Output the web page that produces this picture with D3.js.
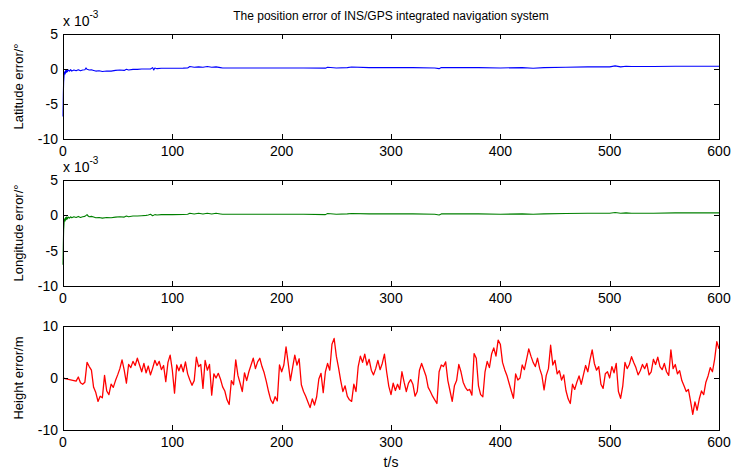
<!DOCTYPE html>
<html>
<head>
<meta charset="utf-8">
<script src="https://cdn.jsdelivr.net/npm/d3@7"></script>
<style>
  body { margin: 0; background: #fff; }
  text { font-family: "Liberation Sans", Arial, sans-serif; fill: #000; }
</style>
</head>
<body>
<div id="chart-area"></div>
<script>
// data

const xTicks = [0, 100, 200, 300, 400, 500, 600];
const degTicks = [5, 0, -5, -10];
const heightTicks = [10, 0, -10];

// latitude error, x 1e-3 deg
const latTime = [0, 0.3, 0.6, 1, 1.5, 2, 2.5, 3, 3.5, 4, 5, 6, 7, 8, 10, 12, 14, 16, 18, 20,
  21, 22, 24, 26, 28, 30, 33, 36, 40, 44, 48, 52, 56, 58, 60, 64, 68, 72, 76, 80,
  82, 83, 84, 86, 90, 100, 110, 114, 116, 120, 124, 128, 132, 136, 140, 144, 146, 150, 160, 180,
  200, 220, 240, 242, 250, 260, 264, 280, 300, 320, 340, 344, 346, 360, 380, 400, 420, 430, 440, 460,
  480, 500, 505, 510, 515, 520, 540, 560, 580, 600];
const latValue = [-6.8, -3.5, -1.8, -0.9, -0.4, -0.7, -0.2, -0.5, -0.1, -0.4, -0.15, -0.3, -0.1, -0.3, -0.15, -0.25, -0.1, -0.25, -0.15, -0.1,
  0.15, -0.05, -0.15, -0.1, -0.2, -0.3, -0.25, -0.35, -0.28, -0.3, -0.2, -0.15, -0.2, -0.05, -0.15, -0.05, -0.05, 0.0, 0.0, 0.0,
  0.2, -0.15, 0.15, 0.05, 0.1, 0.1, 0.12, 0.15, 0.35, 0.25, 0.3, 0.25, 0.35, 0.25, 0.3, 0.2, 0.15, 0.15, 0.15, 0.15,
  0.15, 0.15, 0.12, 0.25, 0.15, 0.2, 0.28, 0.2, 0.2, 0.2, 0.15, 0.05, 0.2, 0.2, 0.2, 0.15, 0.2, 0.1, 0.2, 0.25,
  0.3, 0.3, 0.45, 0.3, 0.4, 0.35, 0.35, 0.4, 0.4, 0.4];

// longitude error, x 1e-3 deg
const lonTime = [0, 0.3, 0.6, 1, 1.5, 2, 2.5, 3, 3.5, 4, 5, 6, 7, 8, 10, 12, 14, 16, 18, 20,
  22, 23, 24, 26, 28, 30, 33, 36, 40, 44, 48, 52, 56, 58, 60, 64, 68, 72, 76, 78,
  80, 82, 84, 86, 90, 100, 110, 114, 116, 120, 124, 128, 132, 136, 140, 144, 146, 150, 160, 180,
  200, 220, 240, 242, 250, 260, 264, 280, 300, 320, 340, 344, 346, 360, 380, 400, 420, 430, 440, 460,
  480, 500, 505, 510, 515, 520, 540, 560, 580, 600];
const lonValue = [-7.0, -4.0, -2.0, -1.0, -0.5, -0.8, -0.3, -0.6, -0.2, -0.5, -0.25, -0.4, -0.2, -0.35, -0.2, -0.3, -0.15, -0.3, -0.2, -0.15,
  0.1, -0.1, -0.2, -0.15, -0.25, -0.35, -0.3, -0.4, -0.3, -0.35, -0.25, -0.2, -0.25, -0.1, -0.2, -0.1, -0.1, -0.05, 0.0, 0.05,
  0.15, -0.05, 0.1, 0.05, 0.1, 0.1, 0.12, 0.15, 0.3, 0.2, 0.3, 0.2, 0.3, 0.2, 0.3, 0.2, 0.15, 0.15, 0.15, 0.15,
  0.15, 0.15, 0.1, 0.25, 0.15, 0.2, 0.25, 0.2, 0.2, 0.2, 0.15, 0.05, 0.2, 0.2, 0.2, 0.15, 0.2, 0.15, 0.2, 0.25,
  0.3, 0.3, 0.4, 0.3, 0.35, 0.3, 0.3, 0.35, 0.35, 0.35];

// height error in m, one value every 2 s from t = 0 to 600
const heightStep = 2;
const heightValue = [
  0, -0.1, -0.2, -0.3, -0.4, -0.5, -0.6, 0.2, -0.9, -1.2,
  -0.8, 3.0, 2.2, 1.5, -1.8, -2.8, -4.5, -3.5, -3.8, 0.5,
  -2.5, -3.2, -1.2, -1.8, -0.5, 0.6, 1.8, 3.5, 1.5, -1.0,
  2.6, 2.0, 3.2, 2.4, 3.8, 2.5, 1.2, 2.8, 1.0, 2.3,
  0.6, 1.9, 3.4, 2.4, 3.2, 1.6, 2.4, -0.7, 3.0, 4.4,
  1.5, -2.9, 2.5, 1.4, 2.6, 1.2, 3.1, 0.8, -0.4, -1.4,
  -0.5, 4.0, 2.2, 2.6, -2.0, 3.4, 1.5, 2.6, -3.3, 0.8,
  0.0, 0.9, -0.2, -1.7, -2.5, -4.2, -5.1, -0.5, -1.3, 3.5,
  0.5, -1.0, -2.6, 1.0, -0.5, 1.2, 2.5, 3.8, 1.8, 3.1,
  3.8, 2.2, 1.0, -0.7, -2.6, -4.2, -4.9, -3.6, -4.4, 2.5,
  1.2, 2.5, 6.0, 2.8, -0.5, 2.0, 4.4, 2.5, 3.7, -1.3,
  -2.6, -3.5, -4.6, -5.7, -4.0, -5.2, -3.6, -0.2, 0.9, -2.8,
  1.2, 2.8, 1.5, 6.5, 7.6, 4.2, 2.0, -0.5, -2.6, -1.5,
  -3.5, -4.2, -4.5, -1.2, -2.6, 2.2, 4.2, 3.0, 4.6, 2.5,
  3.6, 1.5, 0.6, 1.8, 3.4, 1.6, 2.8, 4.6, 1.2, -1.6,
  -3.2, -1.0, -2.4, -1.2, -2.2, 1.2, -0.8, -2.6, -1.0, -0.3,
  -1.2, -3.5, -2.6, 1.5, 2.8, 1.6, 0.4, -1.8, -2.6, -3.5,
  -4.2, -4.9, 1.2, 2.5, 2.2, 3.1, -0.5, -2.5, -4.5, -1.5,
  -0.5, 2.6, 1.2, -0.8, -1.8, -2.4, -2.2, -3.3, 4.7, 3.8,
  -1.5, -3.2, -3.6, 1.2, 3.2, 2.0, 4.6, 5.8, 4.2, 7.3,
  6.5, 3.0, 1.6, 0.5, -1.0, -2.5, -3.9, 0.8, -0.4, 0.0,
  2.5, 1.6, 3.6, 5.6, 4.2, 3.0, 2.2, 3.8, 1.8, 0.5,
  -2.3, 0.5, 1.8, 6.3, 2.5, 3.4, 0.8, 1.4, -0.4, 0.6,
  -2.4, -4.0, -4.9, -1.2, -2.2, -0.8, 0.4, -1.2, 0.6, 2.4,
  1.2, 3.5, 5.4, 2.8, 1.5, 2.2, -1.2, -2.0, 0.8, 1.2,
  0.0, 2.2, 1.0, 2.8, -2.6, -3.9, -1.5, 3.0, 1.8, 2.6,
  4.1, 3.0, 2.0, 0.6, 1.4, 2.6, 1.8, 2.8, 0.6, 1.2,
  3.6, 2.6, 4.0, 2.2, 1.6, 2.8, 1.2, 0.5, 5.4, 1.8,
  2.6, 0.8, 1.4, -0.5, -1.5, -2.6, -2.2, -4.5, -7.0, -4.6,
  -6.2, -4.0, -2.5, -3.2, -0.8, 0.4, 2.0, 1.2, 3.6, 7.0,
  5.6
];

const width = 735, height = 473;
const left = 63, right = 719;

const svg = d3.select("#chart-area")
  .append("svg")
    .attr("width", width)
    .attr("height", height);

const xScale = d3.scaleLinear()
  .domain([0, 600])
  .range([left, right]);

svg.append("text")
    .attr("x", (left + right) / 2)
    .attr("y", 20)
    .attr("text-anchor", "middle")
    .style("font-size", "12px")
    .text("The position error of INS/GPS integrated navigation system");

function drawPanel(top, bottom, yDomain, yTicks, xs, ys, color, label, exponent, lw) {
  const yScale = d3.scaleLinear()
    .domain(yDomain)
    .range([bottom, top]);

  const g = svg.append("g");

  const line = d3.line()
    .x((d, i) => xScale(xs[i]))
    .y(d => yScale(d));

  g.append("path")
      .datum(ys)
      .attr("fill", "none")
      .attr("stroke", color)
      .attr("stroke-width", lw)
      .attr("stroke-linejoin", "round")
      .attr("d", line);

  // ticks on all four sides, pointing inward
  const tl = 5;
  g.selectAll(".xt")
    .data(xTicks)
    .join("path")
      .attr("stroke", "#000")
      .attr("shape-rendering", "crispEdges")
      .attr("d", d => {
        const x = Math.round(xScale(d)) + 0.5;
        return `M${x},${bottom}v${-tl}M${x},${top}v${tl}`;
      });

  g.selectAll(".yt")
    .data(yTicks)
    .join("path")
      .attr("stroke", "#000")
      .attr("shape-rendering", "crispEdges")
      .attr("d", d => {
        const y = Math.round(yScale(d)) + 0.5;
        return `M${left},${y}h${tl}M${right},${y}h${-tl}`;
      });

  g.append("rect")
      .attr("x", left + 0.5)
      .attr("y", top + 0.5)
      .attr("width", right - left)
      .attr("height", bottom - top)
      .attr("fill", "none")
      .attr("stroke", "#000")
      .attr("shape-rendering", "crispEdges");

  g.selectAll(".xl")
    .data(xTicks)
    .join("text")
      .attr("x", d => xScale(d))
      .attr("y", bottom + 17)
      .attr("text-anchor", "middle")
      .style("font-size", "14px")
      .text(d => d);

  g.selectAll(".yl")
    .data(yTicks)
    .join("text")
      .attr("x", left - 5)
      .attr("y", d => yScale(d) + 5)
      .attr("text-anchor", "end")
      .style("font-size", "14px")
      .text(d => d);

  g.append("text")
      .attr("transform", `translate(23,${(top + bottom) / 2}) rotate(-90)`)
      .attr("text-anchor", "middle")
      .style("font-size", "13px")
      .text(label);

  if (exponent) {
    const ex = g.append("text")
        .attr("x", left)
        .attr("y", top - 8)
        .style("font-size", "14px");
    ex.append("tspan").text("x 10");
    ex.append("tspan")
        .attr("dy", -8)
        .style("font-size", "10px")
        .text("-3");
  }
}

drawPanel(34, 139, [-10, 5], degTicks, latTime, latValue, "#0000ff", "Latitude error/°", true, 1.1);
drawPanel(180, 286, [-10, 5], degTicks, lonTime, lonValue, "#008000", "Longitude error/°", true, 1.1);
drawPanel(326, 430, [-10, 10], heightTicks, heightValue.map((d, i) => i * heightStep), heightValue, "#ff0000", "Height error/m", false, 1.3);

svg.append("text")
    .attr("x", (left + right) / 2)
    .attr("y", 467)
    .attr("text-anchor", "middle")
    .style("font-size", "14px")
    .text("t/s");
</script>
</body>
</html>
